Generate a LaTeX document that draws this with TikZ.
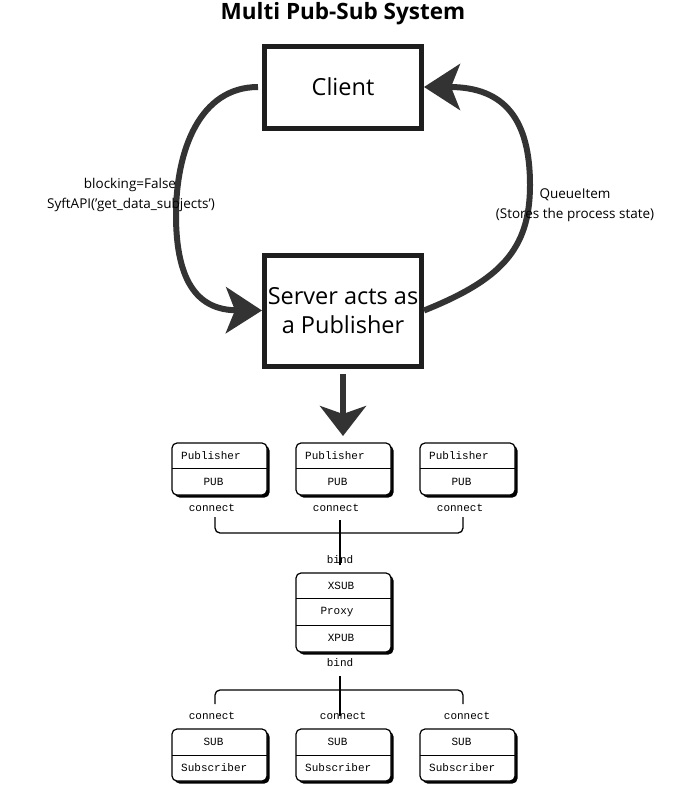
\documentclass[tikz,border=0pt]{standalone}
\usepackage{fontspec}
\setmainfont{Open Sans}
\newfontfamily\boxmono{Liberation Mono}
\usetikzlibrary{arrows.meta,shadows}
\definecolor{arrowgray}{HTML}{333333}
\definecolor{boxline}{HTML}{1E1E1E}
\tikzset{
  bigbox/.style={draw=boxline, line width=5pt, fill=white, minimum width=157pt, inner sep=0pt, align=center, font=\fontsize{23.5}{29}\selectfont},
  flowarrow/.style={draw=arrowgray, line width=6pt, -{Stealth[length=36pt,width=46pt,inset=9pt]}},
  lbl/.style={font=\fontsize{13.5}{17}\selectfont, align=center, inner sep=0pt},
  zbox/.style={draw=black, line width=1.2pt, rounded corners=5pt, fill=white, minimum width=95pt, inner sep=0pt,
     drop shadow={shadow xshift=2.5pt, shadow yshift=-2.5pt, fill=black, opacity=1}},
  mono/.style={font=\boxmono\fontsize{11}{13}\selectfont, inner sep=0pt},
  wire/.style={draw=black, line width=1.3pt, rounded corners=5pt},
}
\begin{document}
\begin{tikzpicture}[x=1pt,y=-1pt]
\useasboundingbox[fill=white] (0,0) rectangle (688,811);
\node[font=\bfseries\fontsize{22.5}{26}\selectfont] (title) at (343,14) {Multi Pub-Sub System};

\node[bigbox, minimum height=82pt] (client) at (343,87) {Client};
\node[bigbox, minimum height=111pt] (server) at (343,310.5) {Server acts as\\a Publisher};

% left curve
\draw[flowarrow] ([xshift=-4pt]client.west) coordinate (lstart)
  .. controls (200,87) and (176,150) .. (176,215)
  .. controls (176,285) and (200,310) .. (server.west);
% right curve
\draw[flowarrow] (server.east)
  .. controls (500,280) and (530,250) .. (530,185)
  .. controls (530,120) and (505,87) .. (client.east);

\node[lbl] (l1) at (130,185) {blocking=False};
\node[lbl] (l2) at (131,205) {SyftAPI('get\_data\_subjects')};
\node[lbl] (r1) at (575,195) {QueueItem};
\node[lbl] (r2) at (575,215) {(Stores the process state)};

% down arrow
\coordinate (dtip) at (343,436);
\draw[draw=arrowgray, line width=6.5pt, -{Stealth[length=30pt,width=46pt,inset=8pt]}] ([yshift=-5pt]server.south) coordinate (dstart) -- (dtip);

% publishers
\foreach \i/\x in {1/219.5,2/343.5,3/467.5}{
  \node[zbox, minimum height=52pt] (pub\i) at (\x,469) {};
  \draw[line width=0.9pt] (\x-47.5,468) -- (\x+47.5,468);
  \node[mono, anchor=west] (pubname\i) at (\x-38.5,456) {Publisher};
  \node[mono] (pubsock\i) at (\x-6,482) {PUB};
}
\node[mono] (pc1) at (212,508) {connect};
\node[mono] (pc2) at (336,508) {connect};
\node[mono] (pc3) at (460,508) {connect};

\coordinate (ub1) at (215,517);
\coordinate (ub3) at (463,517);
\draw[wire] (ub1) -- (215,533) -- (463,533) -- (ub3);
\node[mono] (bind1) at (340,560) {bind};
\coordinate (um) at (340,520);
\draw[line width=1.3pt] (um) -- (340,565);

% proxy
\node[zbox, minimum height=79pt] (proxy) at (343.5,612.5) {};
\draw[line width=0.9pt] (296,598.5) -- (391,598.5);
\draw[line width=0.9pt] (296,625) -- (391,625);
\node[mono] (xsub) at (341,586) {XSUB};
\node[mono] (prx) at (337,612) {Proxy};
\node[mono] (xpub) at (341,638) {XPUB};
\node[mono] (bind2) at (340,663) {bind};

\coordinate (lb1) at (215,704);
\coordinate (lb3) at (463,704);
\draw[wire] (lb1) -- (215,690) -- (463,690) -- (lb3);
\coordinate (lm) at (340,676);
\draw[line width=1.3pt] (lm) -- (340,716);
\node[mono] (sc1) at (212,716) {connect};
\node[mono] (sc2) at (343,716) {connect};
\node[mono] (sc3) at (467,716) {connect};

% subscribers
\foreach \i/\x in {1/219.5,2/343.5,3/467.5}{
  \node[zbox, minimum height=52pt] (sub\i) at (\x,755) {};
  \draw[line width=0.9pt] (\x-47.5,755) -- (\x+47.5,755);
  \node[mono] (subsock\i) at (\x-6,742) {SUB};
  \node[mono, anchor=west] (subname\i) at (\x-38.5,768) {Subscriber};
}
\end{tikzpicture}
\end{document}
